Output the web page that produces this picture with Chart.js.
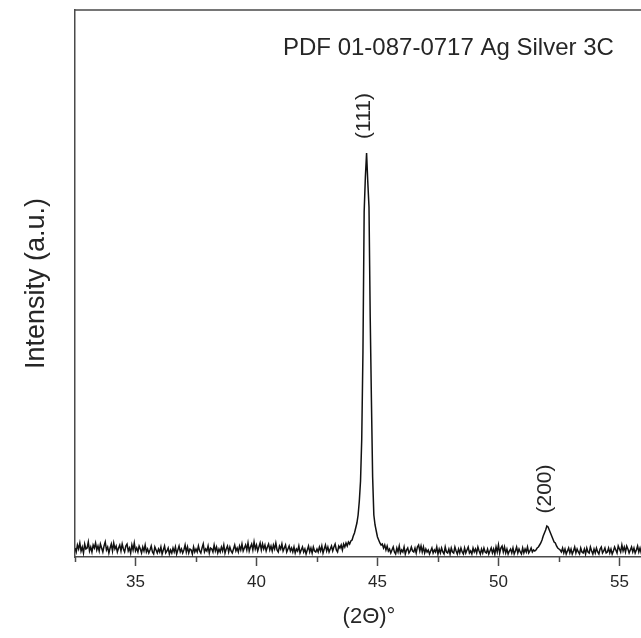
<!DOCTYPE html>
<html>
<head>
<meta charset="utf-8">
<script src="https://cdn.jsdelivr.net/npm/chart.js@4.4.0/dist/chart.umd.min.js"></script>
<style>
  body { margin: 0; background: #fff; overflow: hidden; }
  #wrap { width: 641px; height: 638px; overflow: hidden; }
</style>
</head>
<body>
<div id="wrap"><canvas id="xrd" width="663" height="638"></canvas></div>
<script>
// scan angles (2theta, degrees)
const twoTheta = [
  32.5,32.55,32.6,32.65,32.7,32.75,32.8,32.85,32.9,32.95,33,33.05,33.1,33.15,33.2,33.25,33.3,33.35,33.4,33.45,
  33.5,33.55,33.6,33.65,33.7,33.75,33.8,33.85,33.9,33.95,34,34.05,34.1,34.15,34.2,34.25,34.3,34.35,34.4,34.45,
  34.5,34.55,34.6,34.65,34.7,34.75,34.8,34.85,34.9,34.95,35,35.05,35.1,35.15,35.2,35.25,35.3,35.35,35.4,35.45,
  35.5,35.55,35.6,35.65,35.7,35.75,35.8,35.85,35.9,35.95,36,36.05,36.1,36.15,36.2,36.25,36.3,36.35,36.4,36.45,
  36.5,36.55,36.6,36.65,36.7,36.75,36.8,36.85,36.9,36.95,37,37.05,37.1,37.15,37.2,37.25,37.3,37.35,37.4,37.45,
  37.5,37.55,37.6,37.65,37.7,37.75,37.8,37.85,37.9,37.95,38,38.05,38.1,38.15,38.2,38.25,38.3,38.35,38.4,38.45,
  38.5,38.55,38.6,38.65,38.7,38.75,38.8,38.85,38.9,38.95,39,39.05,39.1,39.15,39.2,39.25,39.3,39.35,39.4,39.45,
  39.5,39.55,39.6,39.65,39.7,39.75,39.8,39.85,39.9,39.95,40,40.05,40.1,40.15,40.2,40.25,40.3,40.35,40.4,40.45,
  40.5,40.55,40.6,40.65,40.7,40.75,40.8,40.85,40.9,40.95,41,41.05,41.1,41.15,41.2,41.25,41.3,41.35,41.4,41.45,
  41.5,41.55,41.6,41.65,41.7,41.75,41.8,41.85,41.9,41.95,42,42.05,42.1,42.15,42.2,42.25,42.3,42.35,42.4,42.45,
  42.5,42.55,42.6,42.65,42.7,42.75,42.8,42.85,42.9,42.95,43,43.05,43.1,43.15,43.2,43.25,43.3,43.35,43.4,43.45,
  43.5,43.55,43.6,43.65,43.7,43.75,43.8,43.85,43.9,43.95,44,44.05,44.1,44.15,44.2,44.25,44.3,44.35,44.4,44.45,
  44.5,44.55,44.6,44.65,44.7,44.75,44.8,44.85,44.9,44.95,45,45.05,45.1,45.15,45.2,45.25,45.3,45.35,45.4,45.45,
  45.5,45.55,45.6,45.65,45.7,45.75,45.8,45.85,45.9,45.95,46,46.05,46.1,46.15,46.2,46.25,46.3,46.35,46.4,46.45,
  46.5,46.55,46.6,46.65,46.7,46.75,46.8,46.85,46.9,46.95,47,47.05,47.1,47.15,47.2,47.25,47.3,47.35,47.4,47.45,
  47.5,47.55,47.6,47.65,47.7,47.75,47.8,47.85,47.9,47.95,48,48.05,48.1,48.15,48.2,48.25,48.3,48.35,48.4,48.45,
  48.5,48.55,48.6,48.65,48.7,48.75,48.8,48.85,48.9,48.95,49,49.05,49.1,49.15,49.2,49.25,49.3,49.35,49.4,49.45,
  49.5,49.55,49.6,49.65,49.7,49.75,49.8,49.85,49.9,49.95,50,50.05,50.1,50.15,50.2,50.25,50.3,50.35,50.4,50.45,
  50.5,50.55,50.6,50.65,50.7,50.75,50.8,50.85,50.9,50.95,51,51.05,51.1,51.15,51.2,51.25,51.3,51.35,51.4,51.45,
  51.5,51.55,51.6,51.65,51.7,51.75,51.8,51.85,51.9,51.95,52,52.05,52.1,52.15,52.2,52.25,52.3,52.35,52.4,52.45,
  52.5,52.55,52.6,52.65,52.7,52.75,52.8,52.85,52.9,52.95,53,53.05,53.1,53.15,53.2,53.25,53.3,53.35,53.4,53.45,
  53.5,53.55,53.6,53.65,53.7,53.75,53.8,53.85,53.9,53.95,54,54.05,54.1,54.15,54.2,54.25,54.3,54.35,54.4,54.45,
  54.5,54.55,54.6,54.65,54.7,54.75,54.8,54.85,54.9,54.95,55,55.05,55.1,55.15,55.2,55.25,55.3,55.35,55.4,55.45,
  55.5,55.55,55.6,55.65,55.7,55.75,55.8,55.85,55.9,55.95,56
];

// intensity (a.u.)
const intensity = [
  9,5,12,8,14,6,10,4,13,8,9,15,6,10,5,12,9,14,7,11,
  6,13,9,5,11,15,7,10,4,9,13,6,14,8,11,5,9,12,6,13,
  8,5,11,13,6,9,4,12,7,14,6,9,5,11,8,4,10,6,12,5,
  8,4,7,11,5,3,10,7,4,8,5,10,3,7,11,4,6,9,3,7,
  4,9,5,10,3,7,11,5,8,4,7,12,5,10,4,8,7,3,10,5,
  8,5,11,6,4,9,13,5,8,6,11,4,9,8,5,12,6,10,4,8,
  5,10,6,12,4,8,11,5,10,6,4,8,12,6,9,5,11,7,13,6,
  9,12,7,14,6,10,13,7,15,8,12,6,10,14,7,13,8,12,6,10,
  13,7,11,6,12,8,14,7,5,11,8,13,6,9,12,5,8,11,6,9,
  5,10,4,8,6,11,4,7,10,5,8,3,7,11,5,9,4,10,6,5,
  8,5,10,6,11,4,8,12,6,10,5,8,11,6,10,13,7,5,11,9,
  12,7,13,10,14,11,15,13,16,17,21,24,29,34,42,56,76,118,205,345,
  380,404,375,350,240,157,80,42,32,26,20,17,14,12,13,9,12,7,11,6,
  8,4,7,10,5,3,9,5,11,4,7,5,10,3,7,9,4,6,10,6,
  5,9,4,10,12,6,11,5,10,4,8,5,7,3,6,9,4,7,5,10,
  3,8,4,9,5,3,10,5,4,8,3,9,5,4,10,6,3,8,4,9,
  5,3,9,4,7,10,4,6,3,9,5,8,4,10,6,3,8,4,9,5,
  4,8,3,6,9,4,8,3,10,5,12,4,9,11,5,10,4,8,3,6,
  8,4,9,3,6,10,4,8,5,3,9,4,8,5,10,4,6,9,5,7,
  6,7,9,10,12,14,17,21,24,27,31,30,27,24,21,18,15,14,11,9,
  8,7,5,9,4,8,3,6,9,4,8,3,6,10,4,8,5,3,9,5,
  4,8,3,9,5,4,10,6,3,8,4,9,5,3,8,10,4,6,9,4,
  5,9,4,8,3,6,10,7,4,11,8,5,12,6,10,5,11,8,4,7,
  10,5,9,4,7,11,5,9,4,8,6
];

const xTickLabels = [35, 40, 45, 50, 55];
const peakLabels = ['(111)', '(200)'];
const peakTheta = [44.55, 52.0];
const peakTop = [404, 31];
const phaseText = 'PDF 01-087-0717 Ag Silver 3C';

const FONT = '"Liberation Sans", Arial, sans-serif';
const axisColor = '#4a4a4a';
const textColor = '#262626';

const isMajor = v => Math.abs(v % 5) < 1e-6;

// frame top, minor ticks and the text labels
const extras = {
  id: 'extras',
  afterDraw(chart) {
    const { ctx, chartArea, scales: { x, y } } = chart;
    ctx.save();
    ctx.strokeStyle = axisColor;
    ctx.lineWidth = 1.5;
    ctx.beginPath();
    ctx.moveTo(chartArea.left, chartArea.top);
    ctx.lineTo(chartArea.right, chartArea.top);
    x.ticks.forEach(t => {
      if (isMajor(t.value)) return;
      const px = Math.round(x.getPixelForValue(t.value)) + 0.5;
      ctx.moveTo(px, chartArea.bottom);
      ctx.lineTo(px, chartArea.bottom + 5);
    });
    ctx.stroke();

    ctx.fillStyle = textColor;
    ctx.font = '24px ' + FONT;
    ctx.textAlign = 'left';
    ctx.textBaseline = 'middle';
    ctx.fillText(phaseText, 283, 48);

    ctx.font = '21px ' + FONT;
    ctx.textAlign = 'center';
    peakLabels.forEach((lab, i) => {
      const px = x.getPixelForValue(peakTheta[i]) - 2;
      const py = y.getPixelForValue(peakTop[i]) - 37;
      ctx.save();
      ctx.translate(px, py);
      ctx.rotate(-Math.PI / 2);
      ctx.fillText(lab, 0, 0);
      ctx.restore();
    });
    ctx.restore();
  }
};

new Chart(document.getElementById('xrd').getContext('2d'), {
  type: 'line',
  data: {
    datasets: [{
      data: twoTheta.map((t, i) => ({ x: t, y: intensity[i] })),
      borderColor: '#111111',
      borderWidth: 1.5,
      pointRadius: 0,
      tension: 0,
      fill: false
    }]
  },
  options: {
    responsive: false,
    animation: false,
    layout: { padding: { top: 10, left: 0, right: 0, bottom: 0 } },
    plugins: { legend: { display: false }, tooltip: { enabled: false } },
    scales: {
      x: {
        type: 'linear',
        min: 32.5,
        max: 56.8,
        afterFit: s => { s.height = 81; },
        border: { display: true, color: axisColor, width: 1.5 },
        grid: {
          drawOnChartArea: false,
          drawTicks: true,
          tickLength: 9,
          tickWidth: 1.5,
          tickColor: c => (c.tick && isMajor(c.tick.value)) ? axisColor : 'rgba(0,0,0,0)'
        },
        ticks: {
          stepSize: 2.5,
          autoSkip: false,
          maxRotation: 0,
          includeBounds: false,
          padding: 6,
          color: textColor,
          font: { family: FONT, size: 17 },
          callback: v => xTickLabels.includes(v) ? String(v) : ''
        },
        title: {
          display: true,
          text: '(2\u0398)\u00b0',
          color: textColor,
          font: { family: FONT, size: 22 },
          padding: { top: 0, bottom: 8 }
        }
      },
      y: {
        min: 0,
        max: 547,
        afterFit: s => { s.width = 75; },
        border: { display: true, color: axisColor, width: 1.5 },
        grid: { display: false },
        ticks: { display: false },
        title: {
          display: true,
          text: 'Intensity (a.u.)',
          color: textColor,
          font: { family: FONT, size: 27 },
          padding: { top: 20, bottom: 0 }
        }
      }
    }
  },
  plugins: [extras]
});
</script>
</body>
</html>
